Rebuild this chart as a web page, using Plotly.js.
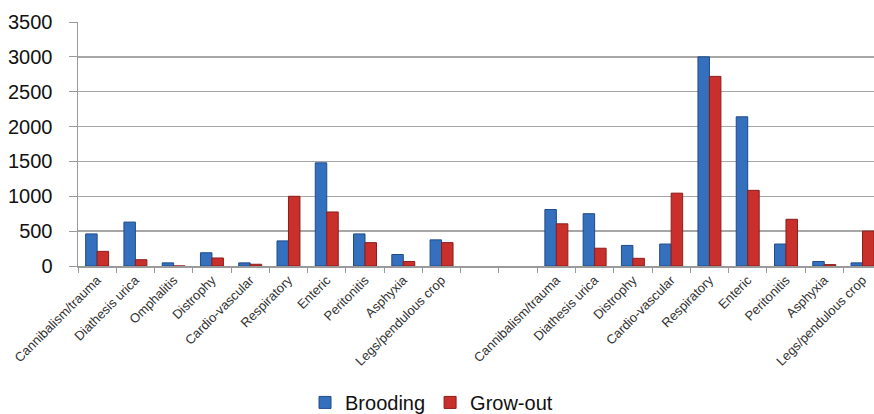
<!DOCTYPE html>
<html>
<head>
<meta charset="utf-8">
<script src="https://cdn.plot.ly/plotly-3.0.1.min.js"></script>
<style>html,body{margin:0;padding:0;background:#fff;}#chart{width:874px;height:414px;}</style>
</head>
<body>
<div id="chart"></div>
<script>
// Category labels (two groups separated by two empty slots)
const group1Labels = ["Cannibalism/trauma","Diathesis urica","Omphalitis","Distrophy","Cardio-vascular","Respiratory","Enteric","Peritonitis","Asphyxia","Legs/pendulous crop"];
const group2Labels = ["Cannibalism/trauma","Diathesis urica","Distrophy","Cardio-vascular","Respiratory","Enteric","Peritonitis","Asphyxia","Legs/pendulous crop"];
const gapSlots = 2;

const brooding1 = [460, 630, 45, 190, 45, 360, 1480, 460, 165, 375];
const growout1  = [210, 90, 0, 115, 25, 1000, 775, 335, 65, 335];
const brooding2 = [810, 750, 295, 315, 3000, 2140, 315, 65, 45];
const growout2  = [605, 255, 110, 1045, 2720, 1085, 670, 20, 500];

const yTicks = [0, 500, 1000, 1500, 2000, 2500, 3000, 3500];

// positions
const pos1 = group1Labels.map((_, i) => i);
const pos2 = group2Labels.map((_, i) => group1Labels.length + gapSlots + i);
const xPos = pos1.concat(pos2);
const xLabels = group1Labels.concat(group2Labels);

const traces = [
  {type:'bar', name:'Brooding', x:xPos, y:brooding1.concat(brooding2),
   marker:{color:'#3470BD', line:{color:'#1E4C8A', width:1}}},
  {type:'bar', name:'Grow-out', x:xPos, y:growout1.concat(growout2),
   marker:{color:'#C9302C', line:{color:'#8C1D1A', width:1}}}
];

const layout = {
  width:874, height:414,
  margin:{l:78, r:0, t:22, b:148, autoexpand:false},
  paper_bgcolor:'#fff', plot_bgcolor:'#fff',
  barmode:'group', bargap:0.4, bargroupgap:0,
  showlegend:true,
  legend:{orientation:'h', xref:'container', yref:'container', x:0.349, xanchor:'left', y:0.028, yanchor:'middle',
          font:{family:'Liberation Sans, Arial, sans-serif', size:20, color:'#111'},
          itemwidth:30, traceorder:'normal'},
  xaxis:{
    type:'linear', range:[-0.5, 20.3], automargin:false,
    tickmode:'array', tickvals:xPos, ticktext:xLabels, tickangle:-45,
    ticks:'', showgrid:false, zeroline:false,
    showline:true, linecolor:'#9a9a9a', linewidth:1.5,
    tickfont:{family:'Liberation Sans, Arial, sans-serif', size:13, color:'#333'},
    minor:{tickmode:'linear', tick0:-0.5, dtick:1, ticks:'outside', ticklen:5, tickcolor:'#9a9a9a', tickwidth:1, showgrid:false}
  },
  yaxis:{
    range:[0,3500], tickmode:'array', tickvals:yTicks, automargin:false,
    showgrid:true, gridcolor:'#a6a6a6', gridwidth:1.5,
    zeroline:false, showline:true, linecolor:'#9a9a9a', linewidth:1.5,
    ticks:'outside', ticklen:8, tickcolor:'#9a9a9a', ticklabelstandoff:12,
    tickfont:{family:'Liberation Sans, Arial, sans-serif', size:20, color:'#111'}
  }
};

Plotly.newPlot('chart', traces, layout, {displayModeBar:false, staticPlot:true});
</script>
</body>
</html>
